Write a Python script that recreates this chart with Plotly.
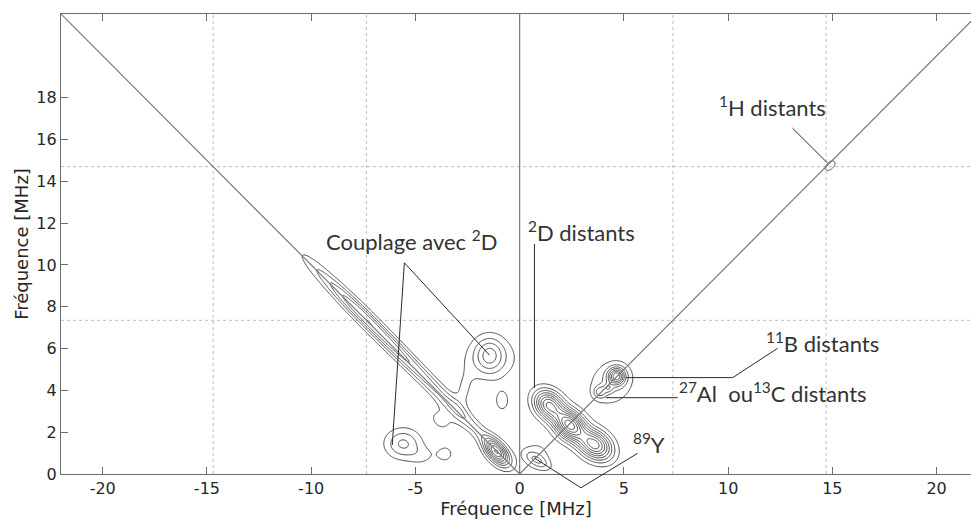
import numpy as np
import plotly.graph_objects as go

# ---------------- data ----------------
# HYSCORE-like peaks: centre (MHz), amplitude, widths along / across the
# orientation angle (deg)
peak_x = [-10.0, -9.0, -8.0, -7.0, -6.0, -5.0, -4.0, -3.0, -2.0,
          -1.1, -3.8, -2.7, -1.45, -1.35, -0.84, -3.56, -5.6, -4.7,
          1.4, 2.4, 3.6, 0.85, 0.8,
          4.65, 3.85, 4.25, 4.4,
          14.9]
peak_y = [10.05, 9.05, 8.05, 7.05, 6.05, 5.05, 4.05, 3.05, 2.05,
          1.05, 2.6, 3.9, 5.7, 5.5, 3.5, 0.95, 1.45, 0.85,
          3.3, 2.35, 1.4, 0.65, 0.9,
          4.68, 3.92, 4.1, 4.35,
          14.75]
peak_amp = [0.09, 0.17, 0.29, 0.29, 0.26, 0.21, 0.18, 0.16, 0.15,
            0.75, 0.12, 0.11, 0.33, 0.14, 0.14, 0.12, 0.32, 0.10,
            0.80, 1.00, 0.85, 0.22, 0.13,
            0.62, 0.25, 0.18, 0.20,
            0.18]
peak_su = [1.0, 1.0, 1.0, 1.0, 1.0, 1.0, 1.0, 1.0, 1.0,
           0.55, 0.6, 0.8, 0.6, 0.75, 0.45, 0.4, 0.6, 0.45,
           0.55, 0.55, 0.62, 0.45, 0.6,
           0.28, 0.2, 0.15, 0.85,
           0.26]
peak_sv = [0.25, 0.25, 0.25, 0.25, 0.25, 0.25, 0.25, 0.25, 0.25,
           0.3, 0.45, 0.35, 0.5, 1.05, 0.3, 0.4, 0.5, 0.35,
           0.43, 0.43, 0.45, 0.2, 0.6,
           0.28, 0.2, 0.15, 0.75,
           0.15]
peak_angle = [135, 135, 135, 135, 135, 135, 135, 135, 135,
              131, 135, 80, 90, 90, 90, 0, 0, 0,
              135, 135, 145, 150, 0,
              0, 0, 0, 45,
              45]

contour_levels = [0.1, 1.2, 0.1]  # start, end, step

x_ticks = [-20, -15, -10, -5, 0, 5, 10, 15, 20]
x_tick_labels = ["-20", "-15", "-10", "-5", "0", "5", "10", "15", "20"]
y_ticks = [0, 2, 4, 6, 8, 10, 12, 14, 16, 18]

larmor_lines = [7.35, 14.7]  # dotted reference lines (MHz)


def field(X, Y):
    Z = np.zeros_like(X)
    for x0, y0, a, su, sv, ang in zip(peak_x, peak_y, peak_amp, peak_su, peak_sv, peak_angle):
        th = np.radians(ang)
        dx, dy = X - x0, Y - y0
        u = dx * np.cos(th) + dy * np.sin(th)
        v = -dx * np.sin(th) + dy * np.cos(th)
        Z += a * np.exp(-u ** 2 / (2 * su ** 2) - v ** 2 / (2 * sv ** 2))
    return Z


XMIN, XMAX, YMIN, YMAX = -22, 21.65, 0, 22

fig = go.Figure()

line_style = dict(color="#3c3c3c", width=0.9)
cont = dict(start=contour_levels[0], end=contour_levels[1], size=contour_levels[2], coloring="none")

# main area
xs = np.arange(-11.5, 6.5001, 0.05)
ys = np.arange(0, 11.5001, 0.05)
X, Y = np.meshgrid(xs, ys)
Z = field(X, Y)
fig.add_trace(go.Contour(x=np.round(xs, 3).tolist(), y=np.round(ys, 3).tolist(),
                         z=np.round(Z, 4).tolist(), autocontour=False, contours=cont,
                         line=line_style, showscale=False, hoverinfo="skip"))
# proton region
xs2 = np.arange(14.0, 16.0001, 0.02)
ys2 = np.arange(13.8, 15.7001, 0.02)
X2, Y2 = np.meshgrid(xs2, ys2)
Z2 = field(X2, Y2)
fig.add_trace(go.Contour(x=np.round(xs2, 3).tolist(), y=np.round(ys2, 3).tolist(),
                         z=np.round(Z2, 4).tolist(), autocontour=False, contours=cont,
                         line=line_style, showscale=False, hoverinfo="skip"))

shapes = []
dot = dict(color="#bdbdbd", width=1, dash="dot")
for v in larmor_lines:
    for s in (-1, 1):
        shapes.append(dict(type="line", xref="x", yref="y", x0=s * v, x1=s * v, y0=YMIN, y1=YMAX,
                           line=dot, layer="below"))
    shapes.append(dict(type="line", xref="x", yref="y", x0=XMIN, x1=XMAX, y0=v, y1=v,
                       line=dot, layer="below"))
diag = dict(color="#7a7a7a", width=1.2)
shapes.append(dict(type="line", xref="x", yref="y", x0=-22, y0=22, x1=0, y1=0, line=diag))
shapes.append(dict(type="line", xref="x", yref="y", x0=0, y0=0, x1=22, y1=22, line=diag))
shapes.append(dict(type="line", xref="x", yref="y", x0=0, y0=0, x1=0, y1=22, line=diag))

lead = dict(color="#2a2a2a", width=1)


def seg(p, q):
    shapes.append(dict(type="line", xref="x", yref="y", x0=p[0], y0=p[1], x1=q[0], y1=q[1], line=lead))


def pseg(p, q):
    fx = lambda x: (x - XMIN) / (XMAX - XMIN)
    fy = lambda y: (y - YMIN) / (YMAX - YMIN)
    shapes.append(dict(type="line", xref="paper", yref="paper", x0=fx(p[0]), y0=fy(p[1]),
                       x1=fx(q[0]), y1=fy(q[1]), line=lead))


seg((-5.53, 10.10), (-6.11, 1.39))
seg((-5.53, 10.10), (-1.45, 5.69))
seg((0.71, 11.0), (0.71, 4.11))
seg((13.09, 16.54), (14.77, 14.87))
seg((12.37, 6.01), (10.22, 4.61))
seg((10.22, 4.61), (5.10, 4.61))
seg((4.14, 3.65), (7.58, 3.65))
pseg((0.70, 0.77), (2.94, -0.66))
pseg((2.94, -0.66), (5.66, 0.99))

afont = dict(family="Lato", size=22, color="#333333")
labels = [
    ("Couplage avec <sup>2</sup>D", -9.37, 11.15),
    ("<sup>2</sup>D distants", 0.32, 11.58),
    ("<sup>1</sup>H distants", 9.45, 17.56),
    ("<sup>11</sup>B distants", 11.73, 6.27),
    ("<sup>27</sup>Al  ou<sup>13</sup>C distants", 7.56, 3.88),
    ("<sup>89</sup>Y", 5.36, 1.45),
]
annotations = [dict(text=t, x=x, y=y, xref="x", yref="y", xanchor="left", yanchor="middle",
                    showarrow=False, font=afont) for t, x, y in labels]

axfont = dict(family="DejaVu Sans", size=16, color="#262626")
titlefont = dict(family="DejaVu Sans", size=18, color="#262626")
fig.update_layout(
    width=971, height=522,
    margin=dict(l=61, r=0, t=14, b=48),
    paper_bgcolor="white", plot_bgcolor="white",
    showlegend=False,
    shapes=shapes, annotations=annotations,
    xaxis=dict(range=[XMIN, XMAX], tickvals=x_ticks, ticktext=x_tick_labels, ticks="inside", ticklen=7,
               tickcolor="#6d6d6d", showline=True, linecolor="#6d6d6d", linewidth=1.2,
               mirror="ticks", showgrid=False, zeroline=False, tickfont=axfont,
               title=dict(text="Fréquence [MHz]", font=titlefont, standoff=2)),
    yaxis=dict(range=[YMIN, YMAX], tickvals=y_ticks, ticks="inside", ticklen=7,
               tickcolor="#6d6d6d", showline=True, linecolor="#6d6d6d", linewidth=1.2,
               showgrid=False, zeroline=False, tickfont=axfont,
               title=dict(text="Fréquence [MHz]", font=titlefont, standoff=3)),
)

fig.write_html("out.html", config={"displayModeBar": False},
               post_script="document.body.style.margin='0';document.body.style.overflow='hidden';")
